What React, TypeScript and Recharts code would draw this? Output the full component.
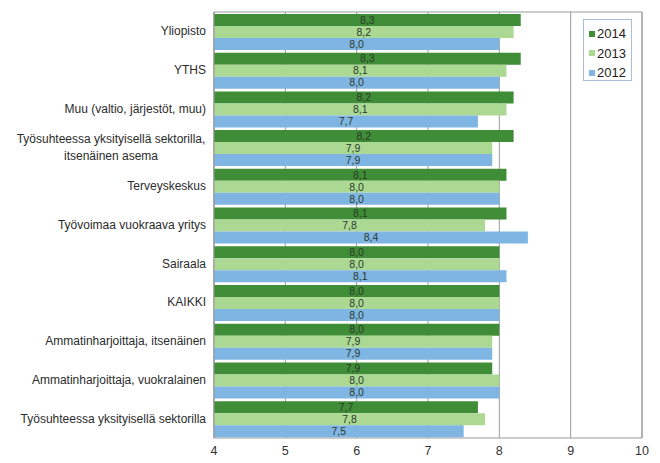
import { BarChart, Bar, XAxis, YAxis, CartesianGrid, LabelList, ReferenceArea } from "recharts"

const categories = [
  "Yliopisto",
  "YTHS",
  "Muu (valtio, järjestöt, muu)",
  "Työsuhteessa yksityisellä sektorilla,\nitsenäinen asema",
  "Terveyskeskus",
  "Työvoimaa vuokraava yritys",
  "Sairaala",
  "KAIKKI",
  "Ammatinharjoittaja, itsenäinen",
  "Ammatinharjoittaja, vuokralainen",
  "Työsuhteessa yksityisellä sektorilla",
]

const values2014 = [8.3, 8.3, 8.2, 8.2, 8.1, 8.1, 8.0, 8.0, 8.0, 7.9, 7.7]
const values2013 = [8.2, 8.1, 8.1, 7.9, 8.0, 7.8, 8.0, 8.0, 7.9, 8.0, 7.8]
const values2012 = [8.0, 8.0, 7.7, 7.9, 8.0, 8.4, 8.1, 8.0, 7.9, 8.0, 7.5]

const xTicks = [4, 5, 6, 7, 8, 9, 10]

const series = [
  { key: "y2014", name: "2014", color: "#3f8d36" },
  { key: "y2013", name: "2013", color: "#abd994" },
  { key: "y2012", name: "2012", color: "#7fb5e2" },
]

const data = categories.map((name, i) => ({
  name,
  y2014: values2014[i],
  y2013: values2013[i],
  y2012: values2012[i],
}))

const font = "'Liberation Sans', Arial, sans-serif"
const fmt = (v: any) => Number(v).toFixed(1).replace(".", ",")

function CategoryTick(props: any) {
  const { x, y, payload } = props
  const lines = String(payload.value).split("\n")
  if (lines.length === 1) {
    return (
      <text x={x} y={y} dy={4} textAnchor="end" fontSize={12} fill="#2b2b2b" fontFamily={font}>
        {lines[0]}
      </text>
    )
  }
  return (
    <text x={x - 95} y={y} textAnchor="middle" fontSize={12} fill="#2b2b2b" fontFamily={font}>
      {lines.map((line, i) => (
        <tspan key={i} x={x - 95} dy={i === 0 ? -4.5 : 17}>
          {line}
        </tspan>
      ))}
    </text>
  )
}

// legend box sits inside the plot, top-right
function LegendBox() {
  return (
    <div
      style={{
        position: "absolute",
        left: 583,
        top: 19,
        width: 49,
        height: 62,
        border: "1px solid #a9bedb",
        background: "#fff",
        padding: "4px 0 0 5px",
        boxSizing: "border-box",
        fontFamily: font,
      }}
    >
      {series.map((s) => (
        <div key={s.key} style={{ display: "flex", alignItems: "center", height: 19.5 }}>
          <span style={{ width: 6, height: 6, background: s.color, marginRight: 2 }} />
          <span style={{ fontSize: 13, color: "#222" }}>{s.name}</span>
        </div>
      ))}
    </div>
  )
}

export default function App() {
  return (
    <div style={{ position: "absolute", left: 0, top: 0, width: 660, height: 463, background: "#fff" }}>
      <BarChart
        width={660}
        height={463}
        data={data}
        layout="vertical"
        margin={{ top: 12, right: 18, bottom: 3, left: 0 }}
        barCategoryGap="5%"
        barGap={0}
      >
        <CartesianGrid horizontal={false} stroke="#9a9a9a" />
        <XAxis
          type="number"
          domain={[4, 10]}
          ticks={xTicks}
          axisLine={false}
          tickLine={false}
          height={22}
          tick={{ fontSize: 12.5, fill: "#333", fontFamily: font }}
        />
        <YAxis
          type="category"
          dataKey="name"
          width={214}
          axisLine={{ stroke: "#9a9a9a" }}
          tickLine={false}
          tick={<CategoryTick />}
          interval={0}
        />
        <ReferenceArea x1={4} x2={10} fill="none" stroke="#9a9a9a" strokeWidth={1} ifOverflow="visible" />
        {series.map((s) => (
          <Bar key={s.key} dataKey={s.key} name={s.name} fill={s.color} isAnimationActive={false}>
            <LabelList
              dataKey={s.key}
              position="center"
              formatter={fmt}
              style={{ fontSize: 10.5, fill: "#2a3a2a", fontFamily: font }}
            />
          </Bar>
        ))}
      </BarChart>
      <LegendBox />
    </div>
  )
}
